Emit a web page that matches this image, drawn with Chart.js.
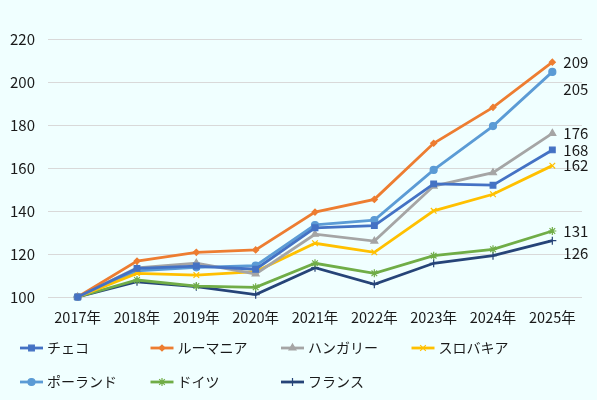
<!DOCTYPE html>
<html>
<head>
<meta charset="utf-8">
<script src="https://cdn.jsdelivr.net/npm/chart.js@4"></script>
<style>
  html, body { margin: 0; padding: 0; background: #F0FFFF; }
  #wrap { width: 597px; height: 400px; }
</style>
</head>
<body>
<div id="wrap"><canvas id="elGrafico" width="597" height="400"></canvas></div>
<script>
const years = ['2017年', '2018年', '2019年', '2020年', '2021年', '2022年', '2023年', '2024年', '2025年']
const czech = [100, 113.3, 114.4, 112.9, 132.2, 133.2, 152.6, 152.0, 168.4]
const romania = [100, 116.7, 120.8, 121.9, 139.5, 145.4, 171.5, 188.2, 209.2]
const hungary = [100, 113.5, 115.7, 110.7, 129.2, 126.0, 151.6, 157.8, 176.1]
const slovakia = [100, 111.0, 110.2, 111.8, 125.0, 120.8, 140.1, 147.8, 161.1]
const poland = [100, 112.2, 113.8, 114.6, 133.5, 135.8, 159.1, 179.5, 204.7]
const germany = [100, 107.9, 105.1, 104.5, 115.7, 111.0, 119.2, 122.2, 130.7]
const france = [100, 107.1, 104.8, 101.1, 113.6, 105.9, 115.7, 119.2, 126.2]
const endLabels = ['168', '209', '176', '162', '205', '131', '126']

const fuente = '"Noto Sans CJK JP", "Noto Sans", sans-serif'

const serie = (label, data, color, pointStyle, radius) => ({
    label: label,
    data: data,
    borderColor: color,
    backgroundColor: color,
    borderWidth: 2.8,
    pointStyle: pointStyle,
    pointRadius: radius,
    pointBorderWidth: 1.2,
    pointHoverRadius: radius,
    tension: 0,
    clip: false
})

// etiquetas al final de cada linea
const finalLabels = {
    id: 'finalLabels',
    afterDatasetsDraw(chart) {
        const ctx = chart.ctx
        const shift = [0, 0, 0, 0, 17, 0, 13]
        ctx.save()
        ctx.font = '15px ' + fuente
        ctx.fillStyle = '#1a1a1a'
        ctx.textBaseline = 'middle'
        chart.data.datasets.forEach((ds, i) => {
            const pts = chart.getDatasetMeta(i).data
            const p = pts[pts.length - 1]
            ctx.fillText(endLabels[i], p.x + 11, p.y + shift[i])
        })
        ctx.restore()
    }
}

// leyenda en cuadricula 4 columnas
const gridLegend = {
    id: 'gridLegend',
    afterDraw(chart) {
        const ctx = chart.ctx
        ctx.save()
        ctx.font = '14px ' + fuente
        ctx.textBaseline = 'middle'
        chart.data.datasets.forEach((ds, i) => {
            const x = 20 + (i % 4) * 130.5
            const y = 348 + Math.floor(i / 4) * 34
            ctx.strokeStyle = ds.borderColor
            ctx.lineWidth = 2.8
            ctx.beginPath()
            ctx.moveTo(x, y)
            ctx.lineTo(x + 23, y)
            ctx.stroke()
            ctx.fillStyle = ds.backgroundColor
            ctx.lineWidth = 1.2
            Chart.helpers.drawPoint(ctx, { pointStyle: ds.pointStyle, radius: ds.pointRadius, rotation: 0, borderWidth: 1.2 }, x + 11.5, y)
            ctx.fillStyle = '#1a1a1a'
            ctx.fillText(ds.label, x + 27, y)
        })
        ctx.restore()
    }
}

new Chart('elGrafico', {
    type: 'line',
    data: {
        labels: years,
        datasets: [
            serie('チェコ', czech, '#4472C4', 'rect', 4),
            serie('ルーマニア', romania, '#ED7D31', 'rectRot', 3),
            serie('ハンガリー', hungary, '#A5A5A5', 'triangle', 4),
            serie('スロバキア', slovakia, '#FFC000', 'crossRot', 4),
            serie('ポーランド', poland, '#5B9BD5', 'circle', 3.5),
            serie('ドイツ', germany, '#70AD47', 'star', 4),
            serie('フランス', france, '#264478', 'cross', 4)
        ]
    },
    options: {
        responsive: false,
        animation: false,
        layout: { padding: { top: 39, right: 15, bottom: 73, left: 0 } },
        plugins: {
            legend: { display: false },
            tooltip: { enabled: false }
        },
        scales: {
            x: {
                offset: true,
                grid: { display: false, drawTicks: false },
                border: { display: false },
                ticks: { color: '#1a1a1a', font: { family: fuente, size: 14.5 }, padding: 12, maxRotation: 0, autoSkip: false },
                afterFit: (s) => { s.height = 30 }
            },
            y: {
                min: 100,
                max: 220,
                grid: { color: '#D9D9D9', lineWidth: 1, drawTicks: false },
                border: { display: false },
                ticks: { stepSize: 20, color: '#1a1a1a', font: { family: fuente, size: 15 }, padding: 13 },
                afterFit: (s) => { s.width = 48 }
            }
        }
    },
    plugins: [finalLabels, gridLegend]
})
</script>
</body>
</html>
